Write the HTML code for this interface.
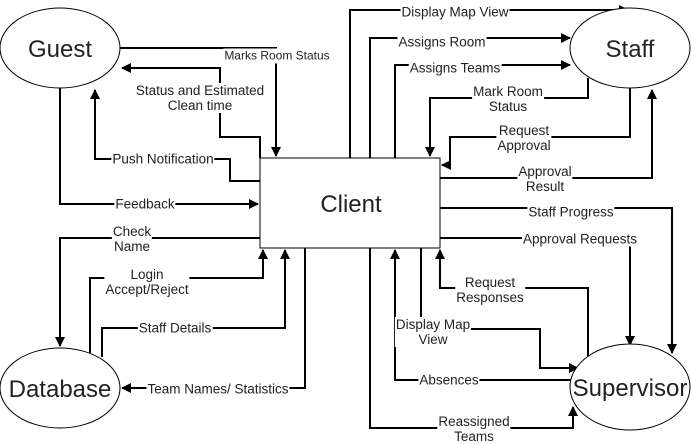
<!DOCTYPE html>
<html><head><meta charset="utf-8"><style>
html,body{margin:0;padding:0;background:#fff;}
body{position:relative;width:691px;height:443px;overflow:hidden;}
svg{display:block;position:absolute;left:0;top:0;}
text{font-family:"Liberation Sans",sans-serif;fill:#222;}
.e{font-size:24px;text-anchor:middle;}
path{fill:none;stroke:#000;stroke-width:2;}
.l{position:absolute;transform:translate(-50%,-50%);background:#fff;font-family:"Liberation Sans",sans-serif;font-size:13.5px;line-height:15px;color:#222;text-align:center;white-space:nowrap;padding:0 1px;}
</style></head><body>
<svg width="691" height="443" viewBox="0 0 691 443" xmlns="http://www.w3.org/2000/svg">
<defs><marker id="a" markerWidth="10" markerHeight="10" refX="9" refY="5" orient="auto" markerUnits="userSpaceOnUse"><path d="M0,0 L10,5 L0,10 Z" style="fill:#000;stroke:none"/></marker></defs>
<path d="M120,48 H276 V156" marker-end="url(#a)"/>
<path d="M260,158 V137 H220 V68 H122" marker-end="url(#a)"/>
<path d="M260,181 H230 V159 H95 V90" marker-end="url(#a)"/>
<path d="M60,88 V204 H258" marker-end="url(#a)"/>
<path d="M260,238 H60 V346" marker-end="url(#a)"/>
<path d="M90,354 V278 H263 V250" marker-end="url(#a)"/>
<path d="M102,357 V328 H285 V250" marker-end="url(#a)"/>
<path d="M305,248 V388 H122" marker-end="url(#a)"/>
<path d="M350,158 V10 H628" marker-end="url(#a)"/>
<path d="M370,158 V38 H570" marker-end="url(#a)"/>
<path d="M395,158 V65 H570" marker-end="url(#a)"/>
<path d="M588,78 V98 H430 V156" marker-end="url(#a)"/>
<path d="M630,88 V137 H450 V165 H442" marker-end="url(#a)"/>
<path d="M440,178 H652 V90" marker-end="url(#a)"/>
<path d="M440,208 H672 V353" marker-end="url(#a)"/>
<path d="M440,238 H630 V345" marker-end="url(#a)"/>
<path d="M588,356 V288 H440 V250" marker-end="url(#a)"/>
<path d="M421,248 V318"/>
<path d="M470,329 H540 V368 H578" marker-end="url(#a)"/>
<path d="M574,380 H395 V250" marker-end="url(#a)"/>
<path d="M370,248 V428 H573 V407" marker-end="url(#a)"/>
<ellipse cx="60" cy="48" rx="60" ry="40" fill="#fff" stroke="#000" stroke-width="1"/>
<ellipse cx="630" cy="48" rx="60" ry="40" fill="#fff" stroke="#000" stroke-width="1"/>
<ellipse cx="60" cy="388" rx="60" ry="40" fill="#fff" stroke="#000" stroke-width="1"/>
<ellipse cx="630" cy="387" rx="60" ry="43" fill="#fff" stroke="#000" stroke-width="1"/>
<rect x="260" y="158" width="180" height="90" fill="#fff" stroke="#000" stroke-width="1"/>
<text class="e" x="60" y="57">Guest</text>
<text class="e" x="630" y="57">Staff</text>
<text class="e" x="60" y="397">Database</text>
<text class="e" x="630" y="396">Supervisor</text>
<text class="e" x="351" y="212">Client</text>
</svg>
<div class="l" style="left:277px;top:56px;font-size:12px">Marks Room Status</div>
<div class="l" style="left:200px;top:98px">Status and Estimated<br>Clean time</div>
<div class="l" style="left:163px;top:159px">Push Notification</div>
<div class="l" style="left:145px;top:204px">Feedback</div>
<div class="l" style="left:132px;top:239px">Check<br>Name</div>
<div class="l" style="left:147px;top:282px">Login<br>Accept/Reject</div>
<div class="l" style="left:175px;top:328px">Staff Details</div>
<div class="l" style="left:218px;top:389px">Team Names/ Statistics</div>
<div class="l" style="left:455px;top:12px">Display Map View</div>
<div class="l" style="left:442px;top:42px">Assigns Room</div>
<div class="l" style="left:455px;top:68px">Assigns Teams</div>
<div class="l" style="left:508px;top:99px">Mark Room<br>Status</div>
<div class="l" style="left:524px;top:138px">Request<br>Approval</div>
<div class="l" style="left:545px;top:179px">Approval<br>Result</div>
<div class="l" style="left:571px;top:212px">Staff Progress</div>
<div class="l" style="left:580px;top:239px">Approval Requests</div>
<div class="l" style="left:490px;top:290px">Request<br>Responses</div>
<div class="l" style="left:433px;top:332px">Display Map<br>View</div>
<div class="l" style="left:449px;top:380px">Absences</div>
<div class="l" style="left:474px;top:429px">Reassigned<br>Teams</div>
</body></html>
